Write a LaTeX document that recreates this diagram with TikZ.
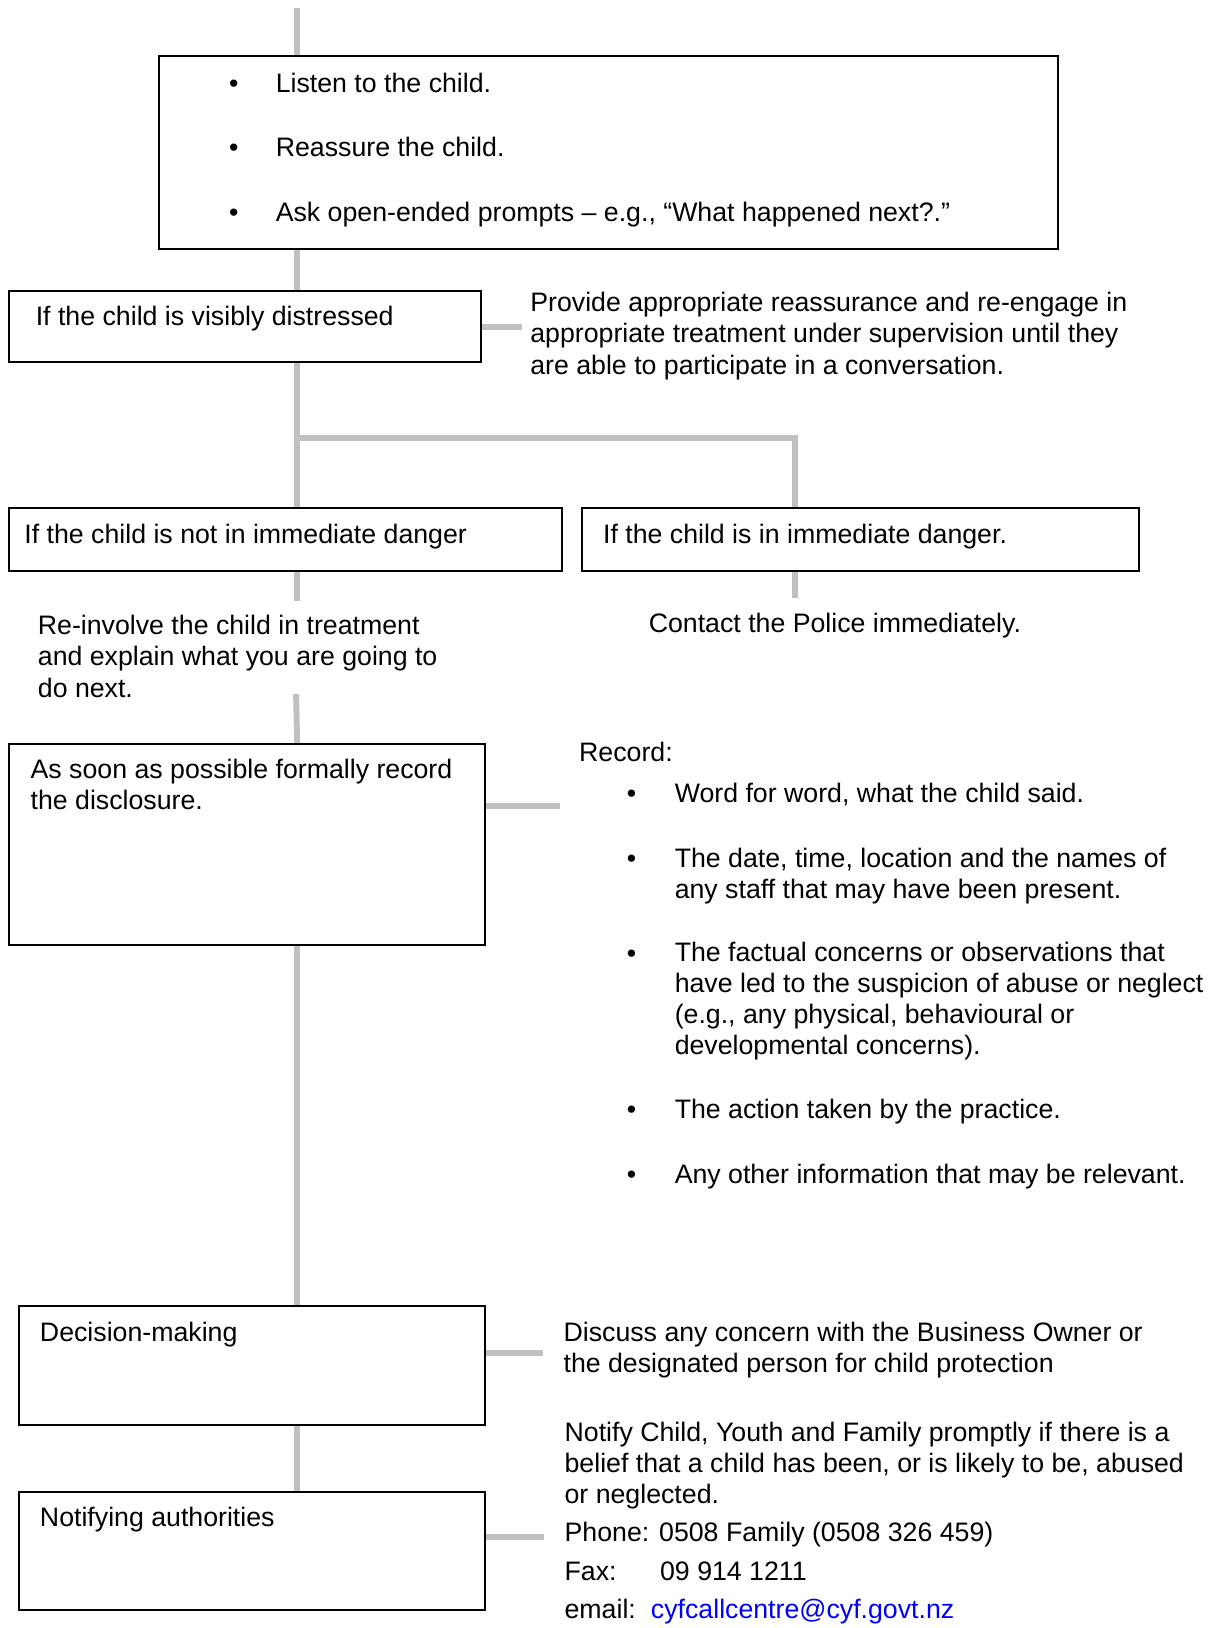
\documentclass[tikz,border=0pt]{standalone}
\usepackage{fontspec}
\setmainfont{Liberation Sans}
\usetikzlibrary{fit}
\definecolor{linkgray}{RGB}{192,192,192}
\definecolor{maillink}{RGB}{0,0,255}
\pgfdeclarelayer{bg}
\pgfsetlayers{bg,main}
\begin{document}
\begin{tikzpicture}[x=0.42pt, y=-0.42pt,
    every node/.style={inner sep=0pt, font=\fontsize{10.8}{12.6}\selectfont},
    box/.style={draw=black, line width=0.8pt},
    txt/.style={anchor=base west, align=left},
    dot/.style={anchor=base},
    link/.style={draw=linkgray, line width=2.4pt}]
  \useasboundingbox (0,0) rectangle (1169,1567);
  \coordinate (spine) at (286,0);
  \coordinate (rspine) at (765,0);
  \coordinate (start) at (286,8);
  \coordinate (fork) at (286,422);
  \coordinate (dstub) at (502,315);
  \coordinate (sstub) at (286,578);
  \coordinate (pstub) at (765,576);
  \coordinate (rtop) at (285,668);
  \coordinate (recstub) at (539,776);
  \coordinate (decstub) at (523,1302);
  \coordinate (notstub) at (524,1479);

  \node[box, fit={(153,54) (1018,240)}] (listen) {};
  \node[dot] (d1) at (225,89) {•};
  \node[dot] (d2) at (225,151) {•};
  \node[dot] (d3) at (225,213) {•};
  \node[txt] (l1) at (265,89) {Listen to the child.};
  \node[txt] (l2) at (265,151) {Reassure the child.};
  \node[txt] (l3) at (265,213) {Ask open-ended prompts – e.g., “What happened next?.”};

  \node[box, fit={(9,280) (463,348)}] (distress) {};
  \node[txt] (distresstxt) at (34,313) {If the child is visibly distressed};
  \node[txt] (provide) at (510,360) {Provide appropriate reassurance and re-engage in\\appropriate treatment under supervision until they\\are able to participate in a conversation.};

  \node[box, fit={(9,489) (541,550)}] (safe) {};
  \node[txt] (safetxt) at (23,523) {If the child is not in immediate danger};
  \node[box, fit={(560,489) (1096,550)}] (danger) {};
  \node[txt] (dangertxt) at (580,523) {If the child is in immediate danger.};

  \node[txt] (reinvolve) at (36,671) {Re-involve the child in treatment\\and explain what you are going to\\do next.};
  \node[txt] (police) at (624,609) {Contact the Police immediately.};

  \node[box, fit={(9,716) (467,910)}] (recbox) {};
  \node[txt] (rectxt) at (29,779) {As soon as possible formally record\\the disclosure.};
  \node[txt] (record) at (557,733) {Record:};
  \node[dot] (r1) at (608,772) {•};
  \node[dot] (r2) at (608,835) {•};
  \node[dot] (r3) at (608,926) {•};
  \node[dot] (r4) at (608,1077) {•};
  \node[dot] (r5) at (608,1139) {•};
  \node[txt] (word) at (649,772) {Word for word, what the child said.};
  \node[txt] (date) at (649,865) {The date, time, location and the names of\\any staff that may have been present.};
  \node[txt] (fact) at (649,1015) {The factual concerns or observations that\\have led to the suspicion of abuse or neglect\\(e.g., any physical, behavioural or\\developmental concerns).};
  \node[txt] (action) at (649,1077) {The action taken by the practice.};
  \node[txt] (other) at (649,1139) {Any other information that may be relevant.};

  \node[box, fit={(18,1257) (467,1372)}] (decide) {};
  \node[txt] (decidetxt) at (38,1291) {Decision-making};
  \node[txt] (discuss) at (542,1321) {Discuss any concern with the Business Owner or\\the designated person for child protection};

  \node[box, fit={(18,1436) (467,1550)}] (notify) {};
  \node[txt] (notifytxt) at (38,1469) {Notifying authorities};
  \node[txt] (contact) at (543,1558) {Notify Child, Youth and Family promptly if there is a\\belief that a child has been, or is likely to be, abused\\or neglected.\\[2.9pt]Phone: 0508 Family (0508 326 459)\\[2.9pt]\makebox[38.6pt][l]{Fax:}09 914 1211\\[2.9pt]\makebox[34.9pt][l]{email:}\textcolor{maillink}{cyfcallcentre@cyf.govt.nz}};

  \begin{pgfonlayer}{bg}
    \draw[link] (start) -- (listen.north -| spine);
    \draw[link] (listen.south -| spine) -- (distress.north -| spine);
    \draw[link] (distress.east |- dstub) -- (dstub);
    \draw[link] (distress.south -| spine) -- (safe.north -| spine);
    \draw[link] (fork) -| (danger.north -| rspine);
    \draw[link] (safe.south -| spine) -- (sstub);
    \draw[link] (danger.south -| rspine) -- (pstub);
    \draw[link] (rtop) -- (recbox.north -| spine);
    \draw[link] (recbox.east |- recstub) -- (recstub);
    \draw[link] (recbox.south -| spine) -- (decide.north -| spine);
    \draw[link] (decide.east |- decstub) -- (decstub);
    \draw[link] (decide.south -| spine) -- (notify.north -| spine);
    \draw[link] (notify.east |- notstub) -- (notstub);
  \end{pgfonlayer}
\end{tikzpicture}
\end{document}
